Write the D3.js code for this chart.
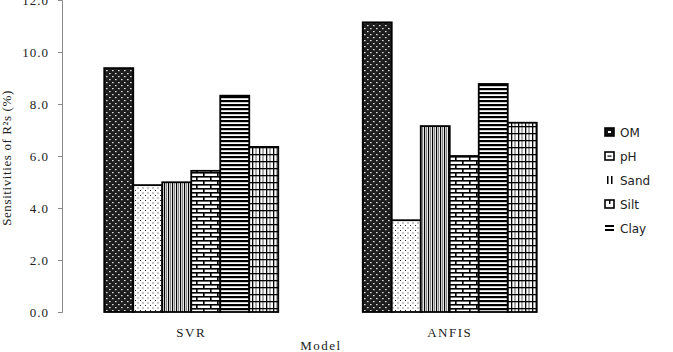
<!DOCTYPE html>
<html><head><meta charset="utf-8">
<script src="https://cdn.jsdelivr.net/npm/d3@7"></script>
<style>body{margin:0;background:#fff}svg{display:block}</style>
</head><body>
<script>
const models = ["SVR", "ANFIS"];
const series = ["OM", "pH", "Sand", "Silt", "Clay", "Other"];
const legendNames = ["OM", "pH", "Sand", "Silt", "Clay"];
const valuesOM = [9.38, 11.14];
const valuesPH = [4.88, 3.53];
const valuesSand = [4.99, 7.15];
const valuesSilt = [5.43, 6.0];
const valuesClay = [8.32, 8.77];
const valuesOther = [6.35, 7.28];
const yTicks = [0, 2, 4, 6, 8, 10, 12];

const allVals = [valuesOM, valuesPH, valuesSand, valuesSilt, valuesClay, valuesOther];
const W = 673, H = 352;
const SERIF = "Liberation Serif, Times New Roman, serif";
const svg = d3.select("body").append("svg").attr("width", W).attr("height", H);
const defs = svg.append("defs");

function pat(id, w, h, bg, draw) {
  const p = defs.append("pattern").attr("id", id).attr("patternUnits", "userSpaceOnUse")
    .attr("width", w).attr("height", h);
  p.append("rect").attr("width", w).attr("height", h).attr("fill", bg);
  draw(p);
}
pat("p0", 6, 6, "#1e1e1e", p => {
  p.append("rect").attr("x", 1).attr("y", 1).attr("width", 1.6).attr("height", 1.2).attr("fill", "#ddd");
  p.append("rect").attr("x", 4).attr("y", 4).attr("width", 1.6).attr("height", 1.2).attr("fill", "#ddd");
});
pat("p1", 5, 5, "#fff", p => {
  p.append("rect").attr("x", 0).attr("y", 0).attr("width", 1).attr("height", 1).attr("fill", "#222");
  p.append("rect").attr("x", 2.5).attr("y", 2.5).attr("width", 1).attr("height", 1).attr("fill", "#222");
});
pat("p2", 4, 4, "#fff", p => {
  p.append("rect").attr("x", 0).attr("y", 0).attr("width", 1.2).attr("height", 4).attr("fill", "#000");
  p.append("rect").attr("x", 2).attr("y", 0).attr("width", 1.2).attr("height", 4).attr("fill", "#888");
});
pat("p3", 14, 8, "#fff", p => {
  p.append("rect").attr("x", 0).attr("y", 0).attr("width", 14).attr("height", 1.6).attr("fill", "#000");
  p.append("rect").attr("x", 0).attr("y", 4).attr("width", 14).attr("height", 1.6).attr("fill", "#000");
  p.append("rect").attr("x", 0).attr("y", 0).attr("width", 1.6).attr("height", 4).attr("fill", "#000");
  p.append("rect").attr("x", 7).attr("y", 4).attr("width", 1.6).attr("height", 4).attr("fill", "#000");
});
pat("p4", 4, 4, "#fff", p => {
  p.append("rect").attr("x", 0).attr("y", 0).attr("width", 4).attr("height", 2.2).attr("fill", "#000");
});
pat("p5", 7, 7, "#fff", p => {
  p.append("rect").attr("x", 0).attr("y", 0).attr("width", 1.3).attr("height", 7).attr("fill", "#000");
  p.append("rect").attr("x", 3.5).attr("y", 0).attr("width", 1).attr("height", 7).attr("fill", "#555");
  p.append("rect").attr("x", 0).attr("y", 0).attr("width", 7).attr("height", 1.3).attr("fill", "#000");
});

const y = d3.scaleLinear().domain([0, 12]).range([312, 0]);
const x0 = d3.scaleBand().domain(models).range([62, 579]).paddingInner(0).paddingOuter(0);
const groupW = 174;
const x1 = d3.scaleBand().domain(series).range([0, groupW]).padding(0);

// y axis
const yAxis = d3.axisLeft(y).tickValues(yTicks).tickFormat(d3.format(".1f")).tickSize(4).tickPadding(9);
const gy = svg.append("g").attr("transform", "translate(62,0)").call(yAxis);
gy.select(".domain").attr("stroke", "#888");
gy.selectAll(".tick line").attr("stroke", "#888");
gy.selectAll("text").attr("font-family", SERIF).attr("font-size", 13)
  .attr("letter-spacing", "1px").attr("fill", "#222");

// bars
const g = svg.append("g");
models.forEach((m, mi) => {
  const gx = x0(m) + (x0.bandwidth() - groupW) / 2;
  series.forEach((s, si) => {
    const v = allVals[si][mi];
    g.append("rect")
      .attr("x", gx + x1(s)).attr("y", y(v))
      .attr("width", x1.bandwidth()).attr("height", y(0) - y(v))
      .attr("fill", `url(#p${si})`).attr("stroke", "#000").attr("stroke-width", 1.8);
  });
});

// x labels
svg.append("g").selectAll("text").data(models).join("text")
  .attr("x", d => x0(d) + x0.bandwidth() / 2).attr("y", 337)
  .attr("text-anchor", "middle").attr("font-family", SERIF)
  .attr("font-size", 13).attr("letter-spacing", "1.5px").attr("fill", "#222").text(d => d);
svg.append("text").attr("x", 321).attr("y", 350).attr("text-anchor", "middle")
  .attr("font-family", SERIF).attr("font-size", 13).attr("letter-spacing", "1.5px").attr("fill", "#222").text("Model");
svg.append("text").attr("transform", "translate(11,158) rotate(-90)").attr("text-anchor", "middle")
  .attr("font-family", SERIF).attr("font-size", 13).attr("letter-spacing", "0.6px").attr("fill", "#222")
  .text("Sensitivities of R²s (%)");

// legend
const lg = svg.append("g").attr("transform", "translate(605,132)");
const rowGap = 24;
legendNames.forEach((n, i) => {
  const row = lg.append("g").attr("transform", `translate(0,${i * rowGap})`);
  if (n === "Sand") {
    row.append("rect").attr("x", 2).attr("y", -4).attr("width", 1.5).attr("height", 8).attr("fill", "#000");
    row.append("rect").attr("x", 6).attr("y", -4).attr("width", 1.5).attr("height", 8).attr("fill", "#000");
  } else if (n === "Clay") {
    row.append("rect").attr("x", 0).attr("y", -3).attr("width", 9).attr("height", 2).attr("fill", "#000");
    row.append("rect").attr("x", 0).attr("y", 1).attr("width", 9).attr("height", 2).attr("fill", "#000");
  } else {
    row.append("rect").attr("x", 0).attr("y", -4).attr("width", 9).attr("height", 8)
      .attr("fill", n === "OM" ? "#111" : "#fff").attr("stroke", "#000").attr("stroke-width", 1.6);
    if (n === "OM") row.append("rect").attr("x", 3).attr("y", -1).attr("width", 3).attr("height", 2).attr("fill", "#fff");
    if (n === "pH") row.append("rect").attr("x", 2.5).attr("y", -0.5).attr("width", 4).attr("height", 1.2).attr("fill", "#000");
    if (n === "Silt") row.append("rect").attr("x", 4).attr("y", -4).attr("width", 1.4).attr("height", 4).attr("fill", "#000");
  }
  row.append("text").attr("x", 15).attr("y", 4.5).attr("font-family", "DejaVu Sans, sans-serif")
    .attr("font-size", 12).attr("fill", "#222").text(n);
});
</script>
</body></html>
